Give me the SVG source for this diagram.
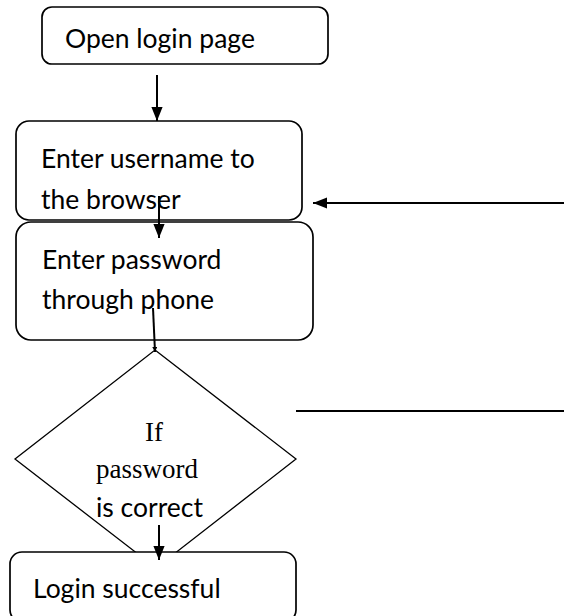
<svg xmlns="http://www.w3.org/2000/svg" width="564" height="616" viewBox="0 0 564 616">
<defs>
<style>
.box{fill:#fff;stroke:#000;stroke-width:1.7}
.t{font-family:Lato,"Open Sans","Liberation Sans",sans-serif;font-size:26.5px;fill:#000}
.s{font-family:"Liberation Serif","Times New Roman",serif;font-size:27px;fill:#000}
.c{stroke:#000;stroke-width:2;fill:none}
</style>
<marker id="ah" viewBox="0 0 10 10" refX="10" refY="5" markerWidth="5" markerHeight="5" orient="auto" markerUnits="userSpaceOnUse">
<path d="M0,0 L10,5 L0,10 Z" fill="#000"/>
</marker>
<marker id="ah2" viewBox="0 0 10 10" refX="10" refY="5" markerWidth="14" markerHeight="14" orient="auto" markerUnits="userSpaceOnUse">
<path d="M0,1 L10,5 L0,9 Z" fill="#000"/>
</marker>
</defs>
<rect width="564" height="616" fill="#fff"/>
<g id="open-login">
<rect class="box" x="42" y="7" width="286" height="57" rx="10"/>
<text class="t" x="65" y="48">Open login page</text>
</g>
<g id="enter-username">
<rect class="box" x="16" y="121" width="286" height="99" rx="13"/>
<text class="t" x="41" y="168">Enter username to</text>
<text class="t" x="41" y="209">the browser</text>
</g>
<g id="enter-password">
<rect class="box" x="16" y="222" width="297" height="118" rx="15"/>
<text class="t" x="42" y="269">Enter password</text>
<text class="t" x="42" y="309">through phone</text>
</g>
<g id="decision">
<polygon class="box" points="155,350 296,459 156,568 15,459" style="stroke-width:1.3"/>
<text class="s" x="154" y="441" text-anchor="middle">If</text>
<text class="s" x="96" y="478">password</text>
<text class="t" x="96" y="517">is correct</text>
</g>
<g id="login-success">
<rect class="box" x="10" y="552" width="286" height="70" rx="12"/>
<text class="t" x="33" y="598">Login successful</text>
</g>
<g id="connectors">
<line class="c" x1="157" y1="75" x2="157" y2="121" marker-end="url(#ah2)"/>
<line class="c" x1="159" y1="196" x2="159" y2="238" marker-end="url(#ah2)"/>
<line class="c" x1="153" y1="308" x2="155" y2="352" marker-end="url(#ah)"/>
<line class="c" x1="564" y1="203" x2="313" y2="203" marker-end="url(#ah2)"/>
<line class="c" x1="296" y1="411" x2="564" y2="411"/>
<line class="c" x1="159" y1="525" x2="159" y2="560" marker-end="url(#ah2)"/>
</g>
</svg>
